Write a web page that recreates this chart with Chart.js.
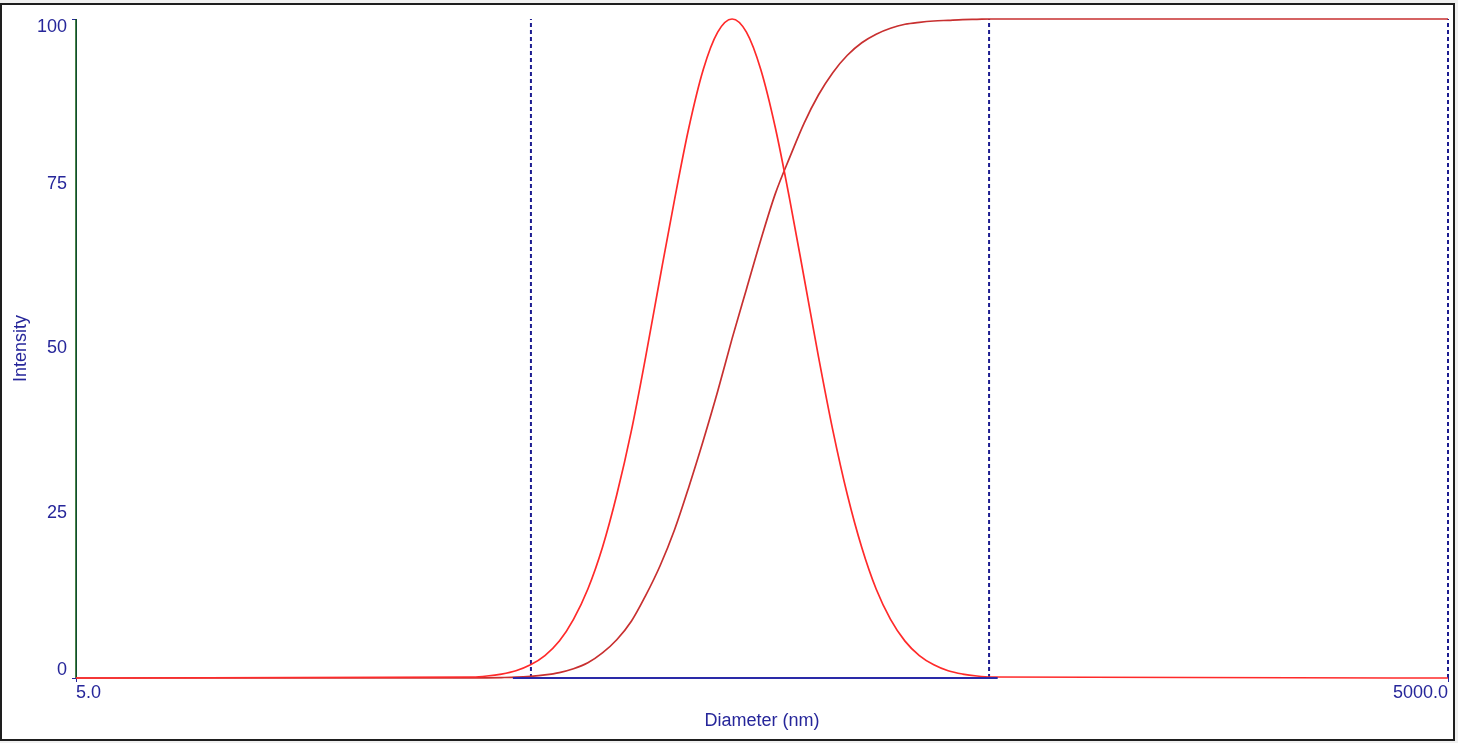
<!DOCTYPE html>
<html>
<head>
<meta charset="utf-8">
<script src="https://cdn.jsdelivr.net/npm/chart.js@4/dist/chart.umd.min.js"></script>
<style>
  html, body { margin: 0; padding: 0; background: #f0f0f0; }
  #frame {
    position: absolute; left: 0; top: 3px; width: 1451px; height: 734px;
    background: #fff; border: 2px solid #1e1e1e;
  }
  #wrap { position: absolute; left: 0; top: 0; width: 1458px; height: 743px; }
</style>
</head>
<body>
<div id="frame"></div>
<div id="wrap"><canvas id="sizeChart"></canvas></div>
<script>
const diameters = [5.0, 36.9, 39.6, 42.6, 45.8, 49.3, 53.0, 57.0, 61.2, 65.8, 70.8, 76.1, 81.9, 88.0, 94.6,
  101.8, 109.4, 117.6, 126.5, 136.0, 146.2, 157.2, 169.1, 181.8, 195.5, 210.2, 226.0, 243.0, 261.3,
  280.9, 302.0, 324.8, 349.2, 375.5, 403.7, 434.1, 466.7, 501.8, 5000.0]

const intensity = [0, 0.15, 0.3, 0.6, 1.1, 2.0, 3.4, 5.6, 8.9, 13.5, 19.8, 27.8, 37.5, 48.7, 60.7,
  72.6, 83.5, 92.3, 98.0, 100, 98.0, 92.3, 83.5, 72.6, 60.7, 48.7, 37.5, 27.8, 19.8,
  13.5, 8.9, 5.6, 3.4, 2.0, 1.1, 0.6, 0.3, 0.15, 0]

const cumulative = [0, 0.02, 0.03, 0.07, 0.13, 0.26, 0.47, 0.82, 1.4, 2.3, 3.8, 5.8, 8.6, 12.5, 17.0,
  22.5, 29.0, 36.0, 43.5, 51.5, 59.0, 66.5, 73.5, 79.0, 84.2, 88.5, 91.9, 94.5, 96.4,
  97.7, 98.6, 99.2, 99.5, 99.7, 99.8, 99.9, 99.95, 100, 100]

const cursors = [49.4, 496, 5000]
const baselineRange = [45.1, 518]
const xTicks = [5, 5000]
const yTicks = [0, 25, 50, 75, 100]

const NAVY = "#26269a"
const FONT = { family: "'Liberation Sans', Arial, sans-serif", size: 18 }

function points(xs, ys) {
  return xs.map(function (x, i) {
    return { x: x, y: ys[i] }
  })
}

const datasets = [
  {
    label: "baseline",
    data: baselineRange.map(function (x) { return { x: x, y: 0 } }),
    borderColor: "#2a2aa8",
    borderWidth: 2,
  },
  {
    label: "Intensity",
    data: points(diameters, intensity),
    borderColor: "#ff2a2a",
    borderWidth: 1.7,
    cubicInterpolationMode: "monotone",
  },
  {
    label: "Cumulative",
    data: points(diameters, cumulative),
    borderColor: "#c83030",
    borderWidth: 1.7,
    cubicInterpolationMode: "monotone",
  },
]

cursors.forEach(function (c) {
  datasets.push({
    label: "cursor",
    data: [{ x: c, y: 0 }, { x: c, y: 100 }],
    borderColor: "#1c1c90",
    borderWidth: 2,
    borderDash: [4, 3],
  })
})

datasets.push({
  label: "edge",
  data: [{ x: xTicks[0], y: 0 }, { x: xTicks[0], y: 100 }],
  borderColor: "#0b5a0b",
  borderWidth: 1.5,
})

// the end labels sit inside the axis range, like the original software
function yLabel(v) {
  if (v === 100) return ["", "100"]
  if (v === 0) return ["0", ""]
  return String(v)
}

new Chart(document.getElementById("sizeChart"), {
  type: "line",
  data: { datasets: datasets },
  options: {
    responsive: true,
    maintainAspectRatio: false,
    animation: false,
    layout: { padding: { left: 0, top: 19, right: 10, bottom: 0 } },
    elements: { point: { radius: 0 } },
    datasets: { line: { clip: false, fill: false } },
    plugins: { legend: { display: false }, tooltip: { enabled: false } },
    scales: {
      x: {
        type: "logarithmic",
        min: xTicks[0],
        max: xTicks[1],
        afterBuildTicks: function (scale) {
          scale.ticks = xTicks.map(function (v) { return { value: v } })
        },
        afterFit: function (scale) {
          scale.height = 65
          scale.paddingLeft = 0
          scale.paddingRight = 0
        },
        border: { display: false },
        grid: { drawOnChartArea: false, drawTicks: true, tickLength: 4, color: NAVY },
        ticks: {
          color: NAVY,
          font: FONT,
          padding: 0,
          align: "inner",
          maxRotation: 0,
          autoSkip: false,
          callback: function (v) { return Number(v).toFixed(1) },
        },
        title: { display: true, text: "Diameter (nm)", color: NAVY, font: FONT, padding: { top: 0, bottom: 11 } },
      },
      y: {
        min: 0,
        max: 100,
        afterBuildTicks: function (scale) {
          scale.ticks = yTicks.map(function (v) { return { value: v } })
        },
        afterFit: function (scale) {
          scale.width = 76
          scale.paddingTop = 0
          scale.paddingBottom = 0
        },
        border: { display: true, color: NAVY, width: 1 },
        grid: {
          drawOnChartArea: false,
          drawTicks: true,
          tickLength: 4,
          color: function (ctx) {
            return ctx.tick && (ctx.tick.value === 0 || ctx.tick.value === 100) ? NAVY : "rgba(0,0,0,0)"
          },
        },
        ticks: {
          color: NAVY,
          font: { family: FONT.family, size: 18, lineHeight: 0.9 },
          padding: 5,
          callback: yLabel,
        },
        title: { display: true, text: "Intensity", color: NAVY, font: FONT, padding: { top: 10, bottom: 0 } },
      },
    },
  },
})
</script>
</body>
</html>
